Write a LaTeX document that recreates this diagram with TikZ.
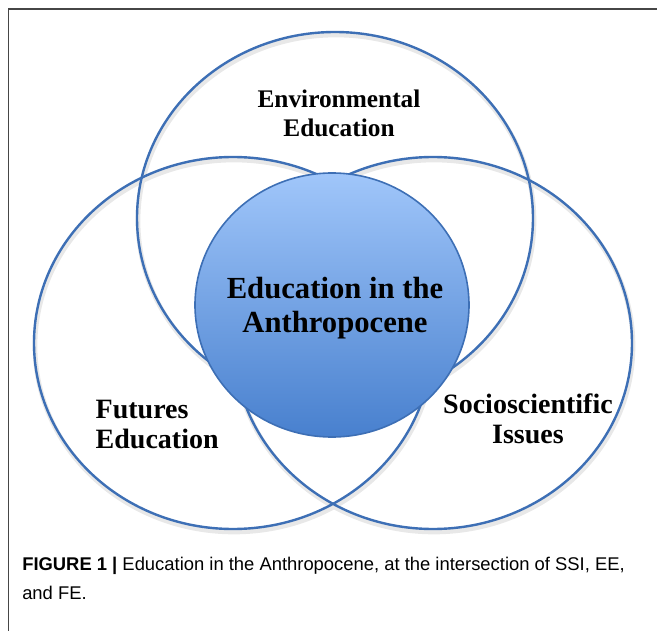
\documentclass[tikz,border=0pt]{standalone}
\usepackage{fontspec}
\setmainfont{Liberation Serif}
\newfontfamily\captionsans{Liberation Sans}
\definecolor{ringblue}{RGB}{61,111,181}
\definecolor{coretop}{RGB}{160,198,250}
\definecolor{corebottom}{RGB}{72,128,206}
\definecolor{framegray}{RGB}{70,70,70}

\begin{document}
\begin{tikzpicture}[x=0.75pt, y=-0.75pt,
    ring/.style={draw=ringblue, line width=1.8pt},
    ringshadow/.style={draw=black!9, line width=3.5pt},
    ringtext/.style={font=\fontsize{21}{22.5}\selectfont\bfseries}]
    \useasboundingbox (0,0) rectangle (657,631);

    % Frame
    \draw[framegray, line width=1.1pt] (8.5,631) -- (8.5,9) -- (657,9);

    % Shadows
    \draw[ringshadow] (336,221) ellipse [x radius=198, y radius=186];
    \draw[ringshadow] (234,346) ellipse [x radius=199, y radius=186];
    \draw[ringshadow] (434,346) ellipse [x radius=199, y radius=186];

    % Rings
    \draw[ring] (335,218) ellipse [x radius=198, y radius=186];
    \draw[ring] (233,343) ellipse [x radius=199, y radius=186];
    \draw[ring] (433,343) ellipse [x radius=199, y radius=186];

    % Core
    \draw[draw=ringblue, line width=1.2pt, top color=coretop, bottom color=corebottom]
        (332,305) ellipse [x radius=137, y radius=132];

    % Labels
    \node[ringtext, font=\fontsize{19}{21.75}\selectfont\bfseries, align=center] (envedu) at (339,113) {Environmental\\Education};
    \node[ringtext, anchor=west, align=left] (futedu) at (91,425) {Futures\\Education};
    \node[ringtext, align=center] (ssi) at (528,419) {Socioscientific\\Issues};
    \node[font=\fontsize{23}{25.5}\selectfont\bfseries, align=center] (anthro) at (335,308) {Education in the\\Anthropocene};

    % Caption
    \node[anchor=north west, align=left, inner sep=0pt,
        font=\captionsans\fontsize{13.8}{22}\selectfont] (caption) at (22,557)
        {\textbf{FIGURE 1 |} Education in the Anthropocene, at the intersection of SSI, EE,\\and FE.};
\end{tikzpicture}
\end{document}
